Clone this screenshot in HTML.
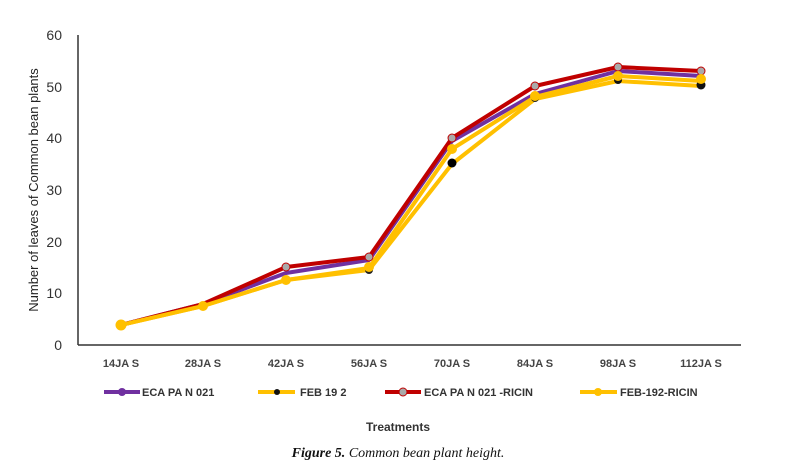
<!DOCTYPE html>
<html><head><meta charset="utf-8"><style>
body{margin:0;background:#fff;}
svg{display:block;}
</style></head><body>
<svg width="796" height="465" xmlns="http://www.w3.org/2000/svg" font-family="Liberation Sans, sans-serif">
<rect width="796" height="465" fill="#fff"/>
<line x1="78" y1="35" x2="78" y2="345" stroke="#333" stroke-width="1.5"/>
<line x1="78" y1="345" x2="741" y2="345" stroke="#333" stroke-width="1.5"/>
<g font-size="14" fill="#333" text-anchor="end">
<text x="62" y="350">0</text><text x="62" y="298">10</text><text x="62" y="247">20</text>
<text x="62" y="195">30</text><text x="62" y="143">40</text><text x="62" y="92">50</text><text x="62" y="40">60</text>
</g>
<text transform="translate(38,190) rotate(-90)" font-size="13" fill="#222" text-anchor="middle">Number of leaves of  Common bean plants</text>
<g font-size="11" font-weight="bold" fill="#444" text-anchor="middle">
<text x="121" y="367">14JA S</text><text x="203" y="367">28JA S</text><text x="286" y="367">42JA S</text><text x="369" y="367">56JA S</text>
<text x="452" y="367">70JA S</text><text x="535" y="367">84JA S</text><text x="618" y="367">98JA S</text><text x="701" y="367">112JA S</text>
</g>
<g fill="none" stroke-width="4" stroke-linejoin="round">
<polyline stroke="#7030a0" points="121,325 203,304 286,273 369,260 452,141 535,94 618,71 701,76"/>
<polyline stroke="#ffc000" points="121,325 203,306 286,280 369,270 452,164 535,99 618,81 701,86"/>
<polyline stroke="#c00000" points="121,325 203,304 286,267 369,257 452,138 535,86 618,67 701,71"/>
<polyline stroke="#ffc000" points="121,325 203,306 286,280 369,268 452,149 535,97 618,76 701,81"/>
</g>
<g>
<circle cx="452" cy="163" r="4.5" fill="#000"/><circle cx="369" cy="270" r="4" fill="#222"/><circle cx="618" cy="80" r="4" fill="#111"/><circle cx="701" cy="85" r="4.5" fill="#111"/><circle cx="535" cy="98" r="4" fill="#222"/>
<g fill="#aaa" stroke="#c00000" stroke-width="1">
<circle cx="286" cy="267" r="4"/><circle cx="369" cy="257" r="4"/><circle cx="452" cy="138" r="4"/><circle cx="535" cy="86" r="4"/><circle cx="618" cy="67" r="4"/><circle cx="701" cy="71" r="4"/>
</g>
<g fill="#ffc000">
<circle cx="121" cy="325" r="5.5"/><circle cx="203" cy="306" r="5"/><circle cx="286" cy="280" r="5"/><circle cx="369" cy="267" r="5"/><circle cx="452" cy="149" r="5"/><circle cx="535" cy="96" r="5"/><circle cx="618" cy="76" r="5"/><circle cx="701" cy="79" r="5"/>
</g>
</g>
<g font-size="11" font-weight="bold" fill="#333">
<line x1="104" y1="392" x2="140" y2="392" stroke="#7030a0" stroke-width="4"/><circle cx="122" cy="392" r="4" fill="#7030a0"/>
<text x="142" y="396">ECA PA N 021</text>
<line x1="258" y1="392" x2="295" y2="392" stroke="#ffc000" stroke-width="4"/><circle cx="277" cy="392" r="3" fill="#111"/>
<text x="300" y="396">FEB 19 2</text>
<line x1="385" y1="392" x2="421" y2="392" stroke="#c00000" stroke-width="4"/><circle cx="403" cy="392" r="4" fill="#aaa" stroke="#c00000"/>
<text x="424" y="396">ECA PA N 021 -RICIN</text>
<line x1="580" y1="392" x2="617" y2="392" stroke="#ffc000" stroke-width="4"/><circle cx="598" cy="392" r="4" fill="#ffc000"/>
<text x="620" y="396">FEB-192-RICIN</text>
</g>
<text x="398" y="431" font-size="12" font-weight="bold" fill="#333" text-anchor="middle">Treatments</text>
<text x="398" y="457" font-size="14" font-style="italic" font-weight="bold" font-family="Liberation Serif, serif" fill="#111" text-anchor="middle">Figure 5. <tspan font-weight="normal">Common bean plant height.</tspan></text>
</svg>
</body></html>
